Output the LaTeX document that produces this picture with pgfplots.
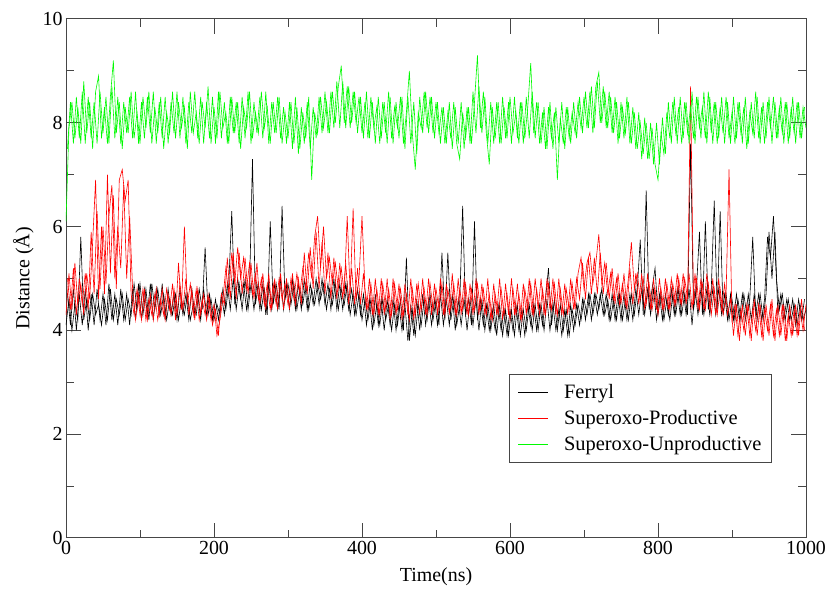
\documentclass[border=0pt]{standalone}
\usepackage{pgfplots}
\pgfplotsset{compat=1.18}
\usepackage{pgfplotstable}
\usepackage{fontspec}
\setmainfont{Liberation Serif}

\pgfplotstableread{
t F P U
0 4.1 4.3 6.1
4 4.6 5.1 7.9
8 4.0 4.4 8.4
12 4.5 5.3 7.7
16 4.2 4.5 8.3
20 5.8 4.9 7.6
24 4.2 4.3 8.8
28 4.6 5.1 7.8
32 4.2 4.6 8.4
36 4.7 5.7 7.5
40 4.3 6.9 8.6
44 4.5 4.6 8.9
48 4.1 6.0 7.7
52 4.6 4.7 8.3
56 4.2 7.0 7.6
60 4.8 5.1 8.5
64 4.2 6.6 9.2
68 4.6 4.8 7.8
72 4.3 6.9 8.4
76 4.7 7.1 7.5
80 4.2 6.5 8.3
84 4.6 6.9 7.8
88 4.3 4.7 8.6
92 4.9 4.3 7.7
96 4.4 4.8 8.2
100 4.9 4.3 7.6
104 4.3 4.8 8.5
108 4.8 4.2 7.9
112 4.2 4.6 8.6
116 4.9 4.3 7.6
120 4.4 4.7 8.3
124 4.8 4.2 7.8
128 4.3 4.6 8.5
132 4.7 4.3 7.5
136 4.2 4.8 8.2
140 4.6 4.4 7.8
144 4.3 4.9 8.6
148 4.7 4.2 7.7
152 4.2 5.3 8.4
156 4.6 4.4 7.9
160 4.3 6.0 8.3
164 4.7 4.5 7.5
168 4.2 4.9 8.6
172 4.5 4.3 7.8
176 4.3 4.8 8.2
180 4.8 4.2 7.6
184 4.4 4.6 8.4
188 5.6 4.3 7.9
192 4.3 4.7 8.7
196 4.6 4.2 7.6
200 4.2 4.5 8.3
204 4.5 3.9 7.7
208 4.3 4.2 8.6
212 4.8 4.6 7.9
216 4.4 5.2 8.2
220 4.9 4.7 7.6
224 6.3 5.5 8.5
228 4.5 4.9 7.8
232 5.0 5.6 8.4
236 4.6 5.0 7.5
240 4.9 5.4 8.3
244 4.4 4.8 7.9
248 4.8 5.3 8.6
252 7.3 4.7 7.7
256 4.5 5.1 8.2
260 4.9 4.6 7.8
264 4.4 5.0 8.6
268 4.8 4.5 7.9
272 4.3 4.9 8.3
276 6.1 4.4 7.6
280 4.5 4.9 8.4
284 4.9 4.5 7.8
288 4.4 5.0 8.5
292 6.4 4.6 7.6
296 4.6 4.9 8.2
300 4.9 4.5 7.7
304 4.5 5.0 8.4
308 4.9 4.6 7.6
312 4.4 5.1 8.3
316 4.8 4.7 7.5
320 4.5 5.2 8.2
324 4.9 4.8 7.7
328 4.4 5.5 8.5
332 4.8 5.0 6.9
336 4.5 5.8 8.2
340 4.9 6.2 7.8
344 4.6 5.2 8.5
348 4.9 6.0 7.9
352 4.4 5.0 8.4
356 4.8 5.4 7.8
360 4.5 4.9 8.6
364 4.9 5.3 8.0
368 4.4 4.8 8.7
372 4.8 5.2 9.1
376 4.5 4.7 8.0
380 4.9 6.2 8.7
384 4.3 4.7 7.9
388 4.7 6.35 8.6
392 4.3 4.6 8.0
396 4.7 5.0 8.5
400 4.2 6.2 7.8
404 4.6 4.8 8.4
408 4.2 4.4 7.7
412 4.6 4.9 8.5
416 4.1 4.3 7.9
420 4.5 4.8 8.3
424 4.1 4.3 7.6
428 4.6 4.9 8.4
432 4.2 4.4 7.8
436 4.5 4.8 8.6
440 4.0 4.3 7.7
444 4.5 4.9 8.3
448 4.1 4.4 7.9
452 4.6 4.8 8.5
456 4.0 4.3 7.6
460 5.4 4.7 8.2
464 3.8 4.2 9.0
468 4.4 4.8 7.8
472 3.9 4.3 7.1
476 4.5 4.9 8.2
480 4.1 4.4 7.9
484 4.6 4.8 8.6
488 4.2 4.3 7.9
492 4.7 4.9 8.5
496 4.2 4.4 7.8
500 4.6 4.8 8.4
504 4.1 4.4 7.8
508 5.5 4.9 8.3
512 4.2 4.3 7.6
516 5.5 4.8 8.2
520 4.2 4.4 7.7
524 4.6 4.9 8.4
528 4.1 4.3 7.6
532 4.5 4.8 7.3
536 6.4 4.4 8.2
540 4.3 4.9 7.7
544 4.6 4.3 8.3
548 4.1 4.8 7.6
552 6.1 4.4 8.4
556 4.2 4.9 9.3
560 4.6 4.4 7.9
564 4.1 4.8 8.6
568 4.5 4.3 7.8
572 4.0 4.7 7.2
576 4.4 4.2 8.3
580 4.0 4.7 7.7
584 4.5 4.3 8.4
588 4.0 4.8 7.6
592 4.4 4.3 8.3
596 3.9 4.7 7.7
600 4.4 4.2 8.5
604 4.0 4.8 7.8
608 4.5 4.3 8.2
612 4.0 4.7 7.6
616 4.4 4.2 8.4
620 3.9 4.8 7.7
624 4.5 4.4 8.3
628 4.1 4.9 9.15
632 4.5 4.3 7.8
636 4.0 4.8 8.4
640 4.5 4.3 7.6
644 4.1 4.8 8.2
648 4.6 4.3 7.5
652 5.2 4.9 8.3
656 4.1 4.4 7.7
660 4.6 4.9 8.2
664 4.0 4.3 6.9
668 4.5 4.8 8.1
672 4.0 4.3 7.6
676 4.4 4.8 8.3
680 3.9 4.4 7.7
684 4.4 4.9 8.2
688 4.1 4.4 7.8
692 4.5 5.1 8.4
696 4.2 5.4 7.9
700 4.6 4.8 8.5
704 4.3 5.3 7.9
708 4.7 5.5 8.6
712 4.3 4.9 7.8
716 4.7 5.3 8.7
720 4.4 5.85 8.97
724 4.8 4.9 8.0
728 4.3 5.3 8.6
732 4.6 4.7 7.9
736 4.2 5.1 8.5
740 4.6 4.6 7.8
744 4.2 5.0 8.4
748 4.7 4.5 7.7
752 4.2 4.9 8.3
756 4.6 4.5 7.8
760 4.2 5.0 8.4
764 4.7 5.7 7.6
768 4.3 4.8 8.2
772 4.8 5.1 7.5
776 5.75 4.6 8.0
780 4.3 5.0 7.4
784 6.7 4.5 8.0
788 4.4 4.9 7.3
792 4.8 4.4 7.9
796 5.2 4.8 7.2
800 4.3 4.3 6.9
804 4.7 4.8 7.8
808 4.2 4.4 7.4
812 4.6 4.9 8.2
816 4.2 4.4 7.7
820 4.7 4.9 8.4
824 4.3 4.5 7.8
828 4.8 5.0 8.3
832 4.3 4.5 7.6
836 4.7 5.0 8.4
840 4.3 4.6 7.8
844 7.6 8.7 8.3
848 4.4 4.5 7.7
852 4.8 5.0 8.5
856 5.9 4.4 7.9
860 4.3 4.9 8.3
864 6.1 4.4 7.7
868 4.4 4.9 8.6
872 4.8 4.3 7.8
876 6.5 4.8 8.4
880 4.4 4.3 7.6
884 6.3 4.8 8.3
888 4.3 4.3 7.8
892 4.7 4.7 8.5
896 4.2 7.1 7.7
900 4.6 4.2 8.2
904 4.2 4.5 7.6
908 4.6 3.9 8.4
912 4.2 4.4 7.8
916 4.7 4.0 8.3
920 4.3 4.5 7.5
924 4.6 3.9 8.2
928 5.8 4.4 7.8
932 4.3 4.0 8.6
936 4.7 4.5 7.7
940 4.2 3.9 8.3
944 4.6 4.4 7.6
948 5.8 4.0 8.4
952 5.4 4.5 7.9
956 6.2 3.9 8.5
960 5.0 4.4 7.7
964 4.4 3.9 8.3
968 4.7 4.5 7.8
972 4.2 3.8 8.4
976 4.6 4.3 7.6
980 4.2 3.9 8.3
984 4.5 4.4 7.8
988 4.1 3.9 8.4
992 4.5 4.4 7.7
996 4.2 4.0 8.3
1000 4.4 4.5 7.9
}\distA

\pgfplotstableread{
t F P U
2 4.7 5.0 7.5
6 4.1 4.4 8.4
10 4.8 5.2 7.6
14 4.0 4.3 8.5
18 4.7 5.0 7.7
22 4.1 4.5 8.6
26 4.8 5.1 7.6
30 4.0 4.4 8.5
34 4.7 5.9 7.7
38 4.1 4.7 8.4
42 4.8 6.3 7.6
46 4.2 4.8 8.6
50 4.7 6.0 7.8
54 4.1 4.9 8.5
58 4.9 6.2 7.6
62 4.2 6.8 8.7
66 4.7 5.0 7.7
70 4.1 6.0 8.5
74 4.8 5.2 7.6
78 4.2 6.8 8.4
82 4.7 5.0 7.8
86 4.1 6.2 8.5
90 4.8 4.8 7.7
94 4.2 4.2 8.6
98 4.9 4.7 7.6
102 4.2 4.2 8.4
106 4.8 4.8 7.7
110 4.3 4.2 8.5
114 4.9 4.7 7.8
118 4.2 4.2 8.6
122 4.8 4.8 7.6
126 4.3 4.3 8.4
130 4.9 4.8 7.7
134 4.2 4.2 8.5
138 4.8 4.7 7.6
142 4.3 4.3 8.4
146 4.7 4.8 7.8
150 4.2 4.3 8.6
154 4.8 4.9 7.7
158 4.3 4.4 8.5
162 4.7 5.0 7.6
166 4.2 4.3 8.4
170 4.8 4.8 7.8
174 4.3 4.2 8.6
178 4.7 4.8 7.7
182 4.2 4.3 8.5
186 4.8 4.7 7.6
190 4.3 4.2 8.4
194 4.7 4.6 7.7
198 4.2 4.1 8.5
202 4.6 4.4 7.6
206 4.2 3.9 8.6
210 4.7 4.7 7.7
214 4.3 4.5 8.4
218 4.9 5.4 7.6
222 4.4 4.6 8.5
226 5.0 5.5 7.8
230 4.4 4.6 8.4
234 4.9 5.5 7.6
238 4.4 4.7 8.5
242 5.0 5.4 7.7
246 4.4 4.7 8.6
250 4.9 5.3 7.6
254 4.4 4.6 8.4
258 4.9 5.3 7.8
262 4.4 4.5 8.5
266 4.9 5.1 7.7
270 4.3 4.4 8.6
274 4.9 5.1 7.6
278 4.4 4.4 8.4
282 4.9 5.0 7.8
286 4.4 4.4 8.5
290 5.0 5.1 7.7
294 4.4 4.4 8.3
298 4.9 5.0 7.6
302 4.4 4.4 8.4
306 5.0 5.1 7.5
310 4.4 4.5 8.5
314 4.9 5.0 7.4
318 4.4 4.5 8.3
322 5.0 5.5 7.6
326 4.4 4.7 8.4
330 4.9 5.6 7.5
334 4.5 4.8 8.3
338 5.0 5.9 7.7
342 4.5 4.8 8.5
346 5.0 5.7 7.8
350 4.5 4.7 8.6
354 4.9 5.5 7.8
358 4.4 4.6 8.6
362 5.0 5.4 7.9
366 4.4 4.6 8.8
370 4.9 5.3 7.9
374 4.4 4.6 8.8
378 4.9 5.3 7.9
382 4.4 4.5 8.7
386 4.8 5.2 8.0
390 4.3 4.5 8.6
394 4.8 5.2 7.8
398 4.3 4.5 8.5
402 4.7 5.1 7.7
406 4.1 4.4 8.6
410 4.6 5.0 7.7
414 4.0 4.3 8.4
418 4.7 5.0 7.6
422 4.1 4.3 8.5
426 4.6 5.0 7.7
430 4.0 4.3 8.4
434 4.6 5.0 7.6
438 4.1 4.2 8.5
442 4.6 5.0 7.6
446 4.0 4.3 8.4
450 4.5 4.9 7.7
454 4.0 4.2 8.5
458 4.5 4.9 7.5
462 3.8 4.3 8.5
466 4.5 5.0 7.6
470 3.9 4.2 8.4
474 4.6 4.9 7.4
478 4.0 4.3 8.5
482 4.7 5.0 7.8
486 4.1 4.3 8.6
490 4.6 5.0 7.8
494 4.1 4.3 8.5
498 4.6 4.9 7.7
502 4.1 4.3 8.4
506 4.7 5.0 7.6
510 4.1 4.3 8.3
514 4.6 4.9 7.6
518 4.1 4.3 8.4
522 4.7 5.1 7.5
526 4.0 4.3 8.3
530 4.6 5.0 7.6
534 4.1 4.3 8.4
538 4.6 5.0 7.5
542 4.0 4.3 8.3
546 4.6 4.9 7.6
550 4.1 4.3 8.6
554 4.6 5.0 7.8
558 4.0 4.3 8.7
562 4.6 4.9 7.8
566 4.0 4.3 8.5
570 4.5 5.0 7.6
574 4.0 4.2 8.4
578 4.5 4.9 7.6
582 3.9 4.3 8.4
586 4.5 5.0 7.6
590 3.9 4.2 8.5
594 4.4 4.9 7.7
598 3.9 4.3 8.4
602 4.4 5.0 7.6
606 3.9 4.3 8.5
610 4.5 4.9 7.7
614 3.9 4.2 8.4
618 4.4 4.9 7.6
622 4.0 4.3 8.5
626 4.5 5.0 7.7
630 4.0 4.3 8.6
634 4.5 5.0 7.7
638 4.0 4.4 8.4
642 4.5 5.0 7.6
646 4.0 4.3 8.3
650 4.6 5.0 7.5
654 4.0 4.4 8.4
658 4.5 5.0 7.5
662 4.0 4.3 8.3
666 4.4 5.0 7.6
670 3.9 4.3 8.4
674 4.4 4.9 7.5
678 3.9 4.3 8.3
682 4.5 5.0 7.6
686 4.0 4.4 8.4
690 4.5 5.0 7.7
694 4.1 4.6 8.5
698 4.6 5.3 7.8
702 4.2 4.6 8.6
706 4.7 5.4 7.9
710 4.2 4.7 8.7
714 4.7 5.4 7.9
718 4.3 4.7 8.8
722 4.7 5.5 8.0
726 4.3 4.7 8.7
730 4.7 5.3 7.9
734 4.2 4.6 8.6
738 4.7 5.2 7.8
742 4.2 4.5 8.5
746 4.7 5.1 7.6
750 4.2 4.5 8.4
754 4.7 5.1 7.7
758 4.2 4.4 8.5
762 4.7 5.2 7.6
766 4.2 4.5 8.3
770 4.8 5.1 7.5
774 4.3 4.5 8.2
778 4.8 5.1 7.3
782 4.3 4.4 8.1
786 4.8 5.1 7.3
790 4.3 4.4 8.0
794 4.8 5.0 7.2
798 4.2 4.4 8.0
802 4.7 5.0 7.2
806 4.2 4.4 8.1
810 4.7 5.0 7.4
814 4.3 4.4 8.4
818 4.8 5.0 7.6
822 4.3 4.5 8.5
826 4.8 5.1 7.6
830 4.3 4.5 8.5
834 4.8 5.1 7.7
838 4.3 4.5 8.4
842 4.8 5.1 7.6
846 4.1 4.4 8.6
850 4.8 5.1 7.6
854 4.3 4.4 8.5
858 4.8 5.0 7.7
862 4.3 4.4 8.6
866 4.8 5.1 7.6
870 4.3 4.4 8.5
874 4.8 5.0 7.6
878 4.3 4.3 8.4
882 4.8 5.0 7.7
886 4.3 4.4 8.5
890 4.7 4.9 7.6
894 4.2 4.3 8.4
898 4.7 4.6 7.6
902 4.2 3.9 8.5
906 4.7 4.5 7.7
910 4.2 3.8 8.4
914 4.7 4.5 7.6
918 4.2 3.9 8.5
922 4.7 4.5 7.6
926 4.2 3.8 8.4
930 4.7 4.6 7.7
934 4.2 3.9 8.5
938 4.7 4.5 7.6
942 4.2 3.8 8.4
946 4.7 4.5 7.7
950 5.9 3.9 8.5
954 5.0 4.6 7.6
958 5.9 3.8 8.4
962 4.3 4.5 7.7
966 4.7 3.9 8.5
970 4.2 4.5 7.6
974 4.6 3.8 8.4
978 4.2 4.5 7.7
982 4.6 3.9 8.5
986 4.1 4.5 7.6
990 4.6 3.9 8.4
994 4.2 4.6 7.7
998 4.6 4.0 8.3
}\distB

\definecolor{pgreen}{RGB}{0,250,0}
\definecolor{pred}{RGB}{255,0,0}
\definecolor{axgray}{RGB}{70,70,70}

\begin{document}
\begin{tikzpicture}
\begin{axis}[
  scale only axis, width=740bp, height=519bp,
  xmin=0, xmax=1000, ymin=0, ymax=10,
  xtick={0,200,...,1000}, ytick={0,2,...,10},
  minor x tick num=1, minor y tick num=1,
  tick align=inside, major tick length=15bp, minor tick length=8bp,
  axis line style={axgray, line width=1pt},
  every tick/.style={axgray, line width=1pt},
  /pgf/number format/assume math mode=true,
  /pgf/number format/1000 sep={},
  tick label style={font=\fontsize{20}{24}\selectfont},
  label style={font=\fontsize{20}{24}\selectfont},
  xlabel={Time(ns)}, ylabel={Distance (Å)},
  xlabel style={yshift=-6bp},
  ylabel style={yshift=2bp},
  legend style={at={(0.954,0.145)}, anchor=south east, draw=axgray, line width=1pt,
    font=\fontsize{20.5}{24}\selectfont, inner xsep=8bp, inner ysep=8bp, row sep=6.5bp},
  legend cell align=left,
  legend image code/.code={\path[draw=none, fill=none] (0bp,-5bp) rectangle (44bp,5bp); \draw[#1, line width=1pt] (0bp,0bp) -- (30bp,0bp);},
]
\addplot[black, line width=0.6pt] table[x=t, y=F] {\distA};
\addlegendentry{Ferryl}
\addplot[black, line width=0.6pt, forget plot] table[x=t, y=F] {\distB};
\addplot[pred, line width=0.6pt] table[x=t, y=P] {\distA};
\addlegendentry{Superoxo-Productive}
\addplot[pred, line width=0.6pt, forget plot] table[x=t, y=P] {\distB};
\addplot[pgreen, line width=0.6pt] table[x=t, y=U] {\distA};
\addlegendentry{Superoxo-Unproductive}
\addplot[pgreen, line width=0.6pt, forget plot] table[x=t, y=U] {\distB};
\end{axis}
\path ([xshift=-66bp,yshift=-50bp]current axis.south west) rectangle ([xshift=28bp,yshift=19bp]current axis.north east);
\end{tikzpicture}
\end{document}
